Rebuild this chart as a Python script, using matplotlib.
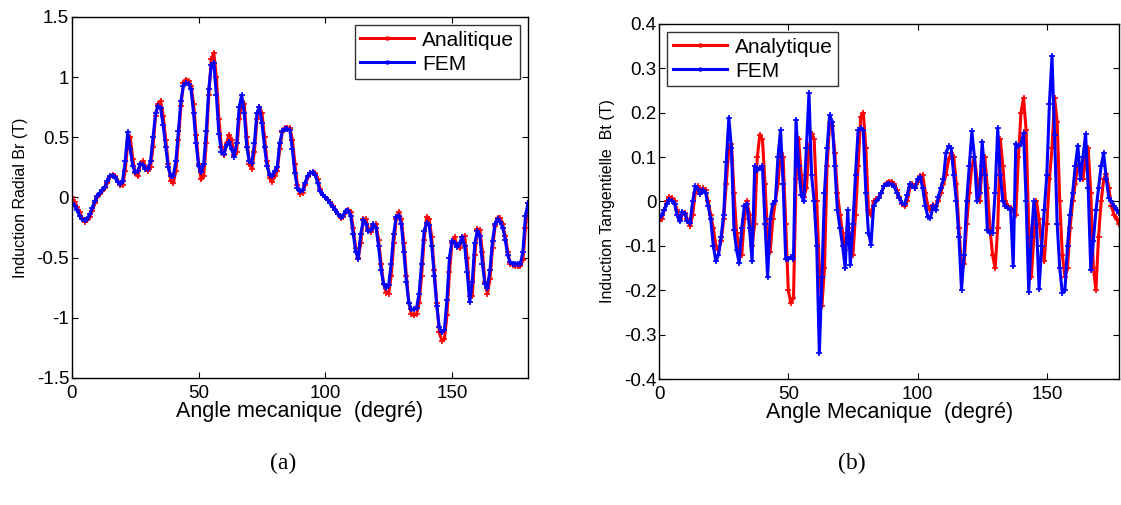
import matplotlib
matplotlib.use('Agg')
import matplotlib.pyplot as plt
import numpy as np

plt.rcParams['font.family'] = ['Liberation Sans', 'DejaVu Sans']

# angles (degrees)
angle = np.arange(0, 181)

# radial induction Br (T)
br_fem = [-0.05, -0.07, -0.10, -0.15, -0.18, -0.19, -0.18, -0.14, -0.09, -0.03,
          0.01, 0.04, 0.06, 0.09, 0.14, 0.18, 0.18, 0.17, 0.13, 0.11,
          0.14, 0.30, 0.54, 0.40, 0.26, 0.21, 0.22, 0.28, 0.27, 0.24,
          0.24, 0.30, 0.50, 0.70, 0.76, 0.74, 0.60, 0.42, 0.25, 0.18,
          0.18, 0.30, 0.55, 0.80, 0.93, 0.95, 0.94, 0.90, 0.70, 0.45,
          0.26, 0.21, 0.28, 0.55, 0.90, 1.10, 1.12, 0.85, 0.53, 0.38,
          0.36, 0.44, 0.46, 0.40, 0.34, 0.45, 0.75, 0.85, 0.70, 0.42,
          0.30, 0.29, 0.45, 0.70, 0.75, 0.62, 0.42, 0.26, 0.19, 0.18,
          0.22, 0.25, 0.45, 0.55, 0.57, 0.57, 0.56, 0.40, 0.20, 0.08,
          0.05, 0.06, 0.12, 0.18, 0.20, 0.21, 0.19, 0.12, 0.05, 0.02,
          0.00, -0.02, -0.05, -0.08, -0.10, -0.14, -0.16, -0.15, -0.11, -0.11,
          -0.15, -0.30, -0.45, -0.51, -0.30, -0.19, -0.22, -0.28, -0.27, -0.22,
          -0.25, -0.40, -0.60, -0.72, -0.75, -0.73, -0.55, -0.30, -0.16, -0.15,
          -0.22, -0.45, -0.70, -0.88, -0.93, -0.93, -0.92, -0.80, -0.55, -0.28,
          -0.21, -0.23, -0.40, -0.65, -0.90, -1.08, -1.12, -1.10, -0.85, -0.50,
          -0.36, -0.38, -0.41, -0.38, -0.33, -0.40, -0.62, -0.87, -0.70, -0.38,
          -0.28, -0.32, -0.55, -0.72, -0.75, -0.60, -0.36, -0.22, -0.18, -0.20,
          -0.25, -0.35, -0.48, -0.54, -0.55, -0.55, -0.55, -0.55, -0.45, -0.15,
          -0.05]

br_ana = [0.00, -0.04, -0.08, -0.12, -0.17, -0.20, -0.19, -0.16, -0.11, -0.05,
          0.00, 0.03, 0.05, 0.08, 0.12, 0.17, 0.19, 0.18, 0.14, 0.10,
          0.10, 0.22, 0.45, 0.50, 0.32, 0.20, 0.18, 0.28, 0.30, 0.26,
          0.22, 0.25, 0.42, 0.68, 0.78, 0.80, 0.68, 0.48, 0.28, 0.14,
          0.12, 0.22, 0.48, 0.76, 0.95, 0.98, 0.97, 0.93, 0.78, 0.52,
          0.28, 0.15, 0.18, 0.45, 0.85, 1.15, 1.20, 1.00, 0.65, 0.42,
          0.35, 0.45, 0.52, 0.48, 0.35, 0.38, 0.65, 0.80, 0.78, 0.50,
          0.28, 0.24, 0.38, 0.65, 0.75, 0.70, 0.50, 0.30, 0.16, 0.13,
          0.18, 0.22, 0.40, 0.54, 0.58, 0.58, 0.58, 0.48, 0.28, 0.10,
          0.03, 0.04, 0.10, 0.17, 0.20, 0.21, 0.20, 0.15, 0.07, 0.02,
          0.00, -0.02, -0.04, -0.07, -0.10, -0.14, -0.17, -0.16, -0.12, -0.10,
          -0.12, -0.25, -0.42, -0.50, -0.38, -0.18, -0.18, -0.26, -0.29, -0.24,
          -0.22, -0.35, -0.55, -0.72, -0.79, -0.80, -0.65, -0.38, -0.18, -0.12,
          -0.18, -0.38, -0.65, -0.88, -0.97, -0.98, -0.97, -0.88, -0.65, -0.35,
          -0.16, -0.18, -0.33, -0.60, -0.88, -1.12, -1.19, -1.18, -0.98, -0.62,
          -0.38, -0.33, -0.40, -0.42, -0.33, -0.32, -0.50, -0.82, -0.82, -0.48,
          -0.26, -0.27, -0.45, -0.70, -0.80, -0.68, -0.42, -0.24, -0.17, -0.17,
          -0.22, -0.32, -0.45, -0.55, -0.56, -0.57, -0.57, -0.57, -0.52, -0.25,
          -0.05]

# tangential induction Bt (T)
bt_fem = [-0.037, -0.030, -0.020, -0.005, 0.003, 0.002, -0.005, -0.030, -0.045, -0.023,
          -0.028, -0.045, -0.048, 0.000, 0.034, 0.028, 0.018, 0.025, 0.020, -0.010,
          -0.040, -0.100, -0.135, -0.120, -0.080, -0.030, 0.090, 0.188, 0.120, -0.064,
          -0.110, -0.139, -0.060, -0.010, -0.005, -0.060, -0.135, 0.080, 0.070, 0.075,
          0.080, -0.050, -0.170, -0.040, -0.005, 0.000, 0.100, 0.161, 0.040, -0.130,
          -0.130, -0.125, -0.130, 0.184, 0.080, 0.015, 0.000, 0.120, 0.244, 0.060,
          0.000, -0.100, -0.341, -0.170, 0.020, 0.120, 0.195, 0.180, 0.080, -0.020,
          -0.060, -0.100, -0.150, -0.020, -0.143, -0.050, 0.060, 0.160, 0.165, 0.160,
          0.020, -0.070, -0.097, -0.010, 0.000, 0.008, 0.020, 0.035, 0.040, 0.040,
          0.038, 0.034, 0.020, 0.008, -0.004, -0.006, 0.015, 0.040, 0.035, 0.030,
          0.050, 0.056, 0.030, -0.010, -0.034, -0.037, -0.010, -0.020, 0.010, 0.030,
          0.050, 0.110, 0.124, 0.120, 0.060, 0.000, -0.080, -0.199, -0.120, 0.000,
          0.080, 0.158, 0.100, 0.000, 0.020, 0.135, 0.060, -0.065, -0.070, -0.070,
          0.020, 0.165, 0.060, 0.000, -0.010, -0.015, -0.018, -0.146, 0.130, 0.125,
          0.130, 0.154, 0.000, -0.203, -0.080, 0.000, -0.050, -0.198, -0.100, -0.020,
          0.060, 0.220, 0.327, 0.150, -0.050, -0.150, -0.206, -0.200, -0.100, -0.030,
          0.020, 0.080, 0.126, 0.050, 0.100, 0.152, 0.030, -0.154, -0.090, -0.020,
          0.030, 0.080, 0.109, 0.050, 0.008, 0.000, -0.010, -0.020, -0.026, -0.030,
          -0.035]

bt_ana = [-0.045, -0.040, -0.020, 0.000, 0.010, 0.008, 0.000, -0.020, -0.040, -0.030,
          -0.025, -0.040, -0.055, -0.030, 0.020, 0.035, 0.025, 0.030, 0.025, 0.000,
          -0.030, -0.060, -0.100, -0.110, -0.090, -0.040, 0.040, 0.120, 0.130, 0.020,
          -0.070, -0.100, -0.120, -0.040, 0.000, -0.030, -0.100, -0.050, 0.100, 0.150,
          0.140, 0.040, -0.080, -0.113, -0.040, 0.000, 0.040, 0.110, 0.100, -0.050,
          -0.200, -0.229, -0.218, 0.050, 0.140, 0.060, 0.010, 0.030, 0.120, 0.153,
          0.140, 0.000, -0.150, -0.236, -0.150, 0.080, 0.176, 0.170, 0.110, 0.020,
          -0.030, -0.070, -0.110, -0.060, -0.080, -0.120, -0.030, 0.080, 0.190, 0.200,
          0.120, -0.020, -0.030, 0.000, 0.005, 0.010, 0.020, 0.035, 0.042, 0.045,
          0.045, 0.040, 0.025, 0.010, -0.005, -0.011, 0.000, 0.030, 0.040, 0.030,
          0.045, 0.058, 0.060, 0.020, -0.010, -0.020, -0.008, -0.010, 0.000, 0.020,
          0.040, 0.060, 0.095, 0.109, 0.100, 0.040, -0.060, -0.147, -0.140, -0.050,
          0.020, 0.080, 0.101, 0.050, 0.000, 0.080, 0.100, 0.030, -0.060, -0.120,
          -0.150, -0.060, 0.140, 0.080, 0.000, -0.010, -0.015, -0.020, -0.030, 0.100,
          0.200, 0.233, 0.160, -0.060, -0.170, -0.080, 0.000, -0.040, -0.100, -0.135,
          -0.050, 0.050, 0.120, 0.233, 0.180, 0.000, -0.120, -0.170, -0.150, -0.060,
          0.000, 0.040, 0.080, 0.070, 0.050, 0.100, 0.120, 0.020, -0.150, -0.199,
          -0.080, 0.000, 0.050, 0.063, 0.030, -0.010, -0.030, -0.040, -0.050, -0.060,
          -0.040]

br_ticks = [-1.5, -1, -0.5, 0, 0.5, 1, 1.5]
br_labels = ['-1.5', '-1', '-0.5', '0', '0.5', '1', '1.5']
bt_ticks = [-0.4, -0.3, -0.2, -0.1, 0, 0.1, 0.2, 0.3, 0.4]
bt_labels = ['-0.4', '-0.3', '-0.2', '-0.1', '0', '0.1', '0.2', '0.3', '0.4']
x_ticks = [0, 50, 100, 150]

fig = plt.figure(figsize=(11.21, 5.05), dpi=100)
ax1 = fig.add_axes([0.0642, 0.2515, 0.4068, 0.7149])
ax2 = fig.add_axes([0.5879, 0.2495, 0.4105, 0.7030])


def style(ax):
    ax.tick_params(direction='in', top=True, right=True, labelsize=13.5,
                   length=4, width=0.8, pad=2)
    ax.tick_params(axis='x', pad=5)
    for s in ax.spines.values():
        s.set_linewidth(1.0)


def legend(ax, loc):
    leg = ax.legend(loc=loc, fontsize=15, frameon=True, fancybox=False,
                    edgecolor='black', handlelength=2.6, borderaxespad=0.4,
                    borderpad=0.25, labelspacing=0.25, handletextpad=0.4)
    leg.get_frame().set_linewidth(1.0)
    for h in leg.get_lines():
        h.set_marker('.')
        h.set_markersize(4)
    return leg


# (a) radial
ax1.plot(angle, br_ana, '-', color='red', lw=2.2, marker='+', ms=5, mew=1.2,
         label='Analitique')
ax1.plot(angle, br_fem, '-', color='blue', lw=2.2, marker='+', ms=5, mew=1.2,
         label='FEM')
ax1.set_xlim(0, 180)
ax1.set_ylim(-1.5, 1.5)
ax1.set_yticks(br_ticks)
ax1.set_yticklabels(br_labels)
ax1.set_xticks(x_ticks)
style(ax1)
ax1.set_xlabel('Angle mecanique  (degré)', fontsize=15.5, labelpad=-1)
ax1.set_ylabel('Induction Radial Br (T)', fontsize=11.5, labelpad=6)
legend(ax1, 'upper right')

# (b) tangential
ax2.plot(angle, bt_ana, '-', color='red', lw=2.2, marker='+', ms=5, mew=1.2,
         label='Analytique')
ax2.plot(angle, bt_fem, '-', color='blue', lw=2.2, marker='+', ms=5, mew=1.2,
         label='FEM')
ax2.set_xlim(0, 178)
ax2.set_ylim(-0.4, 0.4)
ax2.set_yticks(bt_ticks)
ax2.set_yticklabels(bt_labels)
ax2.set_xticks(x_ticks)
style(ax2)
ax2.set_xlabel('Angle Mecanique  (degré)', fontsize=15.5, labelpad=-1)
ax2.set_ylabel('Induction Tangentielle  Bt (T)', fontsize=11.5, labelpad=6)
legend(ax2, 'upper left')

fig.text(283 / 1121, 1 - 463 / 505, '(a)', fontsize=17, family='Liberation Serif',
         ha='center', va='center')
fig.text(852 / 1121, 1 - 463 / 505, '(b)', fontsize=17, family='Liberation Serif',
         ha='center', va='center')

fig.savefig('out.png', dpi=100)
plt.close('all')
